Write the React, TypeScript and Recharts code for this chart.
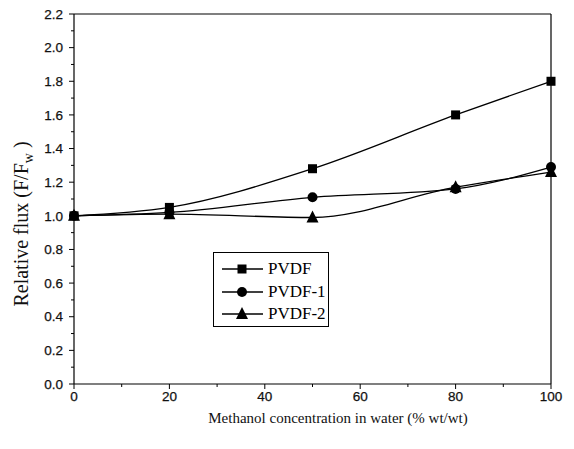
import React from 'react';
import { LineChart, Line, XAxis, YAxis, ReferenceLine, Legend, Label } from 'recharts';

const concentrations = [0, 20, 50, 80, 100];
const pvdf = [1.0, 1.05, 1.28, 1.6, 1.8];
const pvdf1 = [1.0, 1.02, 1.11, 1.16, 1.29];
const pvdf2 = [1.0, 1.01, 0.99, 1.17, 1.26];

const xTicks = [0, 10, 20, 30, 40, 50, 60, 70, 80, 90, 100];
const yTicks = [0, 0.1, 0.2, 0.3, 0.4, 0.5, 0.6, 0.7, 0.8, 0.9, 1.0, 1.1, 1.2, 1.3, 1.4, 1.5, 1.6, 1.7, 1.8, 1.9, 2.0, 2.1, 2.2];

const data = concentrations.map((c, i) => ({ x: c, a: pvdf[i], b: pvdf1[i], c: pvdf2[i] }));

const TICK_FONT = '"Liberation Sans", Arial, sans-serif';
const SERIF = '"Liberation Serif", "Times New Roman", serif';

const XTick = (props: any) => {
  const { x, y, payload } = props;
  const v = payload.value;
  const major = v % 20 === 0;
  return (
    <g>
      <line x1={x} x2={x} y1={y} y2={y + (major ? 5 : 3)} stroke="#000" strokeWidth={1} />
      {major && (
        <text x={x} y={y + 17} textAnchor="middle" fontFamily={TICK_FONT} fontSize={13.5} fill="#111" stroke="#111" strokeWidth={0.25}>
          {String(v)}
        </text>
      )}
    </g>
  );
};

const YTick = (props: any) => {
  const { x, y, payload } = props;
  const v = payload.value;
  const major = Math.round(v * 10) % 2 === 0;
  return (
    <g>
      <line x1={x - (major ? 5 : 3)} x2={x} y1={y} y2={y} stroke="#000" strokeWidth={1} />
      {major && (
        <text x={x - 11} y={y} dy="0.35em" textAnchor="end" fontFamily={TICK_FONT} fontSize={13.5} fill="#111" stroke="#111" strokeWidth={0.25}>
          {v.toFixed(1)}
        </text>
      )}
    </g>
  );
};

const Square = (props: any) => {
  const { cx, cy } = props;
  if (cx == null || cy == null) return null;
  return <rect x={cx - 4.5} y={cy - 4.5} width={9} height={9} fill="#000" />;
};
const Circle = (props: any) => {
  const { cx, cy } = props;
  if (cx == null || cy == null) return null;
  return <circle cx={cx} cy={cy} r={5} fill="#000" />;
};
const Triangle = (props: any) => {
  const { cx, cy } = props;
  if (cx == null || cy == null) return null;
  return <polygon points={`${cx},${cy - 7} ${cx + 6},${cy + 5} ${cx - 6},${cy + 5}`} fill="#000" />;
};

const legendItems = [
  { name: 'PVDF', shape: 'square' },
  { name: 'PVDF-1', shape: 'circle' },
  { name: 'PVDF-2', shape: 'triangle' },
];

const LegendBox = () => (
  <div style={{ border: '1px solid #000', width: 114, height: 73, boxSizing: 'content-box', background: '#fff' }}>
    {legendItems.map((it, i) => (
      <div key={it.name} style={{ position: 'absolute', left: 8, top: 8 + i * 22.5, height: 18, display: 'flex', alignItems: 'center' }}>
        <svg width={44} height={18} style={{ display: 'block' }}>
          <line x1={1} x2={42} y1={9} y2={9} stroke="#000" strokeWidth={1.3} />
          {it.shape === 'square' && <rect x={16.5} y={4.5} width={9} height={9} fill="#000" />}
          {it.shape === 'circle' && <circle cx={21} cy={9} r={5} fill="#000" />}
          {it.shape === 'triangle' && <polygon points="21,2 27,14 15,14" fill="#000" />}
        </svg>
        <span style={{ fontFamily: SERIF, fontSize: 17, color: '#000', marginLeft: 3, lineHeight: '18px' }}>{it.name}</span>
      </div>
    ))}
  </div>
);

export default function App() {
  return (
    <div style={{ position: 'absolute', left: 0, top: 0, background: '#fff' }}>
      <LineChart width={574} height={449} data={data} margin={{ top: 14, right: 23, left: 0, bottom: 0 }}>
        <XAxis
          dataKey="x"
          type="number"
          domain={[0, 100]}
          ticks={xTicks}
          interval={0}
          height={65}
          tickSize={0}
          tickMargin={0}
          tickLine={false}
          tick={<XTick />}
          axisLine={{ stroke: '#000', strokeWidth: 1.2 }}
        >
          <Label
            content={() => (
              <text x={338} y={423} textAnchor="middle" fontFamily={SERIF} fontSize={15} fill="#111">
                Methanol concentration in water (% wt/wt)
              </text>
            )}
          />
        </XAxis>
        <YAxis
          type="number"
          domain={[0, 2.2]}
          ticks={yTicks}
          interval={0}
          width={74}
          tickSize={0}
          tickMargin={0}
          tickLine={false}
          tick={<YTick />}
          axisLine={{ stroke: '#000', strokeWidth: 1.2 }}
        >
          <Label
            content={() => (
              <text x={28} y={224} transform="rotate(-90 28 224)" textAnchor="middle" fontFamily={SERIF} fontSize={20} fill="#111">
                Relative flux (F/F
                <tspan dy={5} fontSize={14}>w</tspan>
                <tspan dy={-5}> )</tspan>
              </text>
            )}
          />
        </YAxis>
        <ReferenceLine y={2.2} stroke="#000" strokeWidth={1.2} />
        <ReferenceLine x={100} stroke="#000" strokeWidth={1.2} />
        <Line type="monotone" dataKey="a" name="PVDF" stroke="#000" strokeWidth={1.3} dot={<Square />} isAnimationActive={false} />
        <Line type="monotone" dataKey="b" name="PVDF-1" stroke="#000" strokeWidth={1.3} dot={<Circle />} isAnimationActive={false} />
        <Line type="monotone" dataKey="c" name="PVDF-2" stroke="#000" strokeWidth={1.3} dot={<Triangle />} isAnimationActive={false} />
        <Legend
          layout="vertical"
          align="center"
          verticalAlign="middle"
          content={<LegendBox />}
          wrapperStyle={{ position: 'absolute', left: 213, top: 252, width: 116, height: 75 }}
        />
      </LineChart>
    </div>
  );
}
